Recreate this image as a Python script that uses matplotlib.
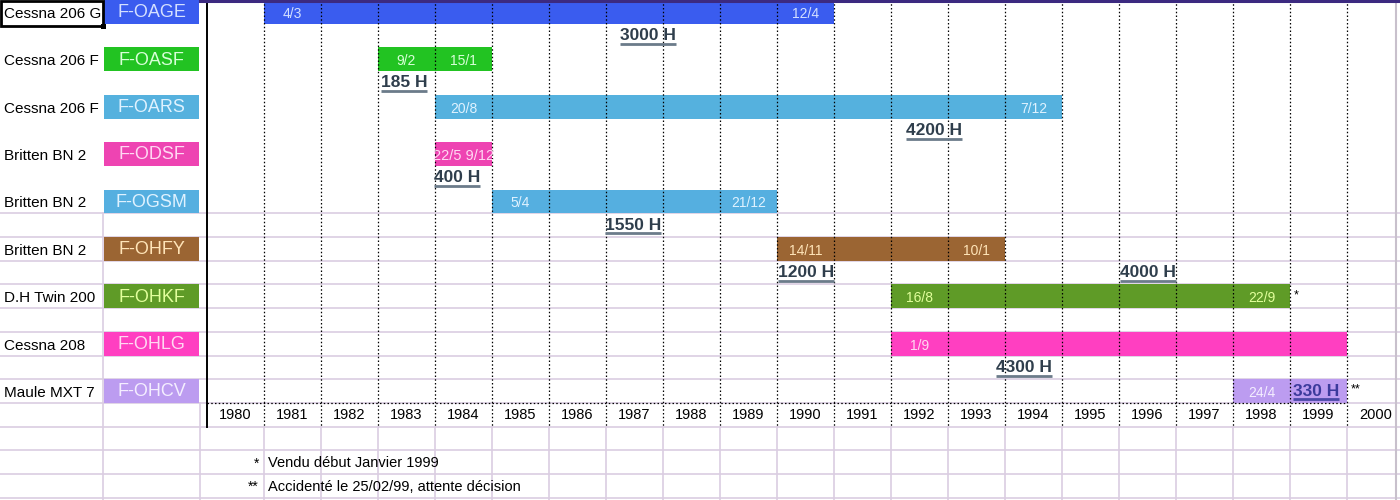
import matplotlib
matplotlib.use("Agg")
import matplotlib.pyplot as plt
from matplotlib.patches import Rectangle

plt.rcParams['font.family'] = ['Liberation Sans', 'DejaVu Sans']

# ---------------- data ----------------
names = ['Cessna 206 G', 'Cessna 206 F', 'Cessna 206 F', 'Britten BN 2', 'Britten BN 2',
         'Britten BN 2', 'D.H Twin 200', 'Cessna 208', 'Maule MXT 7']
regs = ['F-OAGE', 'F-OASF', 'F-OARS', 'F-ODSF', 'F-OGSM', 'F-OHFY', 'F-OHKF', 'F-OHLG', 'F-OHCV']
start_year = [1981, 1983, 1984, 1984, 1985, 1990, 1992, 1992, 1998]
end_year = [1990, 1984, 1994, 1984, 1989, 1993, 1998, 1999, 1999]
start_date = ['4/3', '9/2', '20/8', '22/5', '5/4', '14/11', '16/8', '1/9', '24/4']
end_date = ['12/4', '15/1', '7/12', '9/12', '21/12', '10/1', '22/9', '', '']
hours = ['3000 H', '185 H', '4200 H', '400 H', '1550 H', '1200 H', '4000 H', '4300 H', '330 H']
notes = ['', '', '', '', '', '', '*', '', '**']
years = list(range(1980, 2001))
footnote_marks = ['*', '**']
footnote_texts = ['Vendu début Janvier 1999', 'Accidenté le 25/02/99, attente décision']

# ---------------- styles / layout ----------------
bar_colors = ['#3a5cef', '#22c322', '#55b1de', '#ee44b2', '#55afe0', '#9b6533', '#5f9b27', '#ff3fc1', '#bc9cf0']
text_colors = ['#d4e0ff', '#d8ffd8', '#dff2ff', '#ffd8f2', '#dff2ff', '#ffe4b8', '#e2ff9c', '#ffd8f2', '#f4eeff']
hours_row = [1, 3, 5, 7, 9, 11, 11, 15, 16]
hours_x = [1987.25, 1983.05, 1992.26, 1983.98, 1986.98, 1990.02, 1996.02, 1993.84, 1999.05]
hours_color = ['#2f3e4c'] * 8 + ['#3b3a9c']

COLW = 57.0      # pixels per year column
ROWH = 23.7      # pixels per spreadsheet row
X0PX = 207.0     # pixel position of the 1980 column
DY = 0.58        # vertical text position inside a row


def px2x(px):
    return years[0] + (px - X0PX) / COLW


fig = plt.figure(figsize=(14, 5), dpi=100)
ax = fig.add_axes([0, 0, 1, 1])
ax.set_xlim(px2x(0), px2x(1400))
ax.set_ylim(500 / ROWH, 0)
ax.axis('off')

n_rows = 21
year_row = 2 * len(regs) - 1   # row 17
grid_col = '#dacde2'

# pink horizontal spreadsheet lines (lower part)
for r in range(9, n_rows + 1):
    ax.plot([px2x(0), px2x(1400)], [r, r], color=grid_col, lw=1.2, zorder=1)
# pink vertical lines
ax.plot([px2x(103)] * 2, [9, n_rows + 1], color=grid_col, lw=1.2, zorder=1)
ax.plot([px2x(200)] * 2, [year_row, n_rows + 1], color=grid_col, lw=1.2, zorder=1)
for yv in years[1:]:
    ax.plot([yv, yv], [year_row + 1, n_rows + 1], color=grid_col, lw=1.2, zorder=1)
ax.plot([px2x(1396)] * 2, [0, n_rows + 1], color='#c8c0cc', lw=1.5, zorder=1)

# dotted black year boundaries
for yv in years[1:]:
    ax.plot([yv, yv], [0, year_row + 1], color='black', lw=0.9,
            linestyle=(0, (1.2, 1.8)), zorder=4)
ax.plot([years[0], years[-1]], [year_row, year_row], color='black', lw=0.9,
        linestyle=(0, (1.2, 1.8)), zorder=4)
ax.plot([years[0]] * 2, [0, year_row + 1], color='black', lw=1.4, zorder=4)
ax.plot([px2x(200), px2x(1400)], [0.03, 0.03], color='#3c2a80', lw=2.2, zorder=5)

# year labels
for yv in years:
    ax.text(yv + 0.5, year_row + 0.52, str(yv), ha='center', va='center', fontsize=10.5,
            color='black', zorder=6)

hour_texts = []
for i in range(len(regs)):
    row = 2 * i
    # name
    ax.text(px2x(4), row + DY, names[i], ha='left', va='center', fontsize=11,
            color='black', zorder=6)
    # registration box
    ax.add_patch(Rectangle((px2x(104), row), (199 - 104) / COLW, 1.0,
                           facecolor=bar_colors[i], edgecolor='none', zorder=3))
    ax.text(px2x(151.5), row + 0.54, regs[i], ha='center', va='center', fontsize=13,
            color=text_colors[i], zorder=6)
    # bar
    bc = ax.barh(row + 0.5, end_year[i] - start_year[i] + 1, left=start_year[i],
                 height=1.0, color=bar_colors[i], edgecolor='none', zorder=3)
    patch = bc.patches[0]
    if start_year[i] == end_year[i]:
        t = ax.text(start_year[i] + 0.5, row + DY, start_date[i] + ' ' + end_date[i],
                    ha='center', va='center', fontsize=10.5, color=text_colors[i], zorder=6)
        t.set_clip_path(patch)
    else:
        ax.text(start_year[i] + 0.5, row + DY, start_date[i], ha='center', va='center',
                fontsize=10, color=text_colors[i], zorder=6)
        if end_date[i]:
            ax.text(end_year[i] + 0.5, row + DY, end_date[i], ha='center', va='center',
                    fontsize=10, color=text_colors[i], zorder=6)
    if notes[i]:
        ax.text(end_year[i] + 1 + 0.07, row + 0.45, notes[i], ha='left', va='center',
                fontsize=9, color='black', zorder=6)
    # hours label
    ht = ax.text(hours_x[i], hours_row[i] + 0.5, hours[i], ha='left', va='center',
                 fontsize=12.5, fontweight='bold', color=hours_color[i], zorder=7)
    hour_texts.append(ht)

# selection box round first cell
ax.add_patch(Rectangle((px2x(1), 0.05), (103 - 1) / COLW, 1.05, facecolor='none',
                       edgecolor='black', lw=2, zorder=8))
ax.add_patch(Rectangle((px2x(101), 1.0), 5 / COLW, 0.22, facecolor='black',
                       edgecolor='none', zorder=8))

# footnotes
for k in range(len(footnote_marks)):
    r = year_row + 2 + k
    ax.text(px2x(259), r + 0.55, footnote_marks[k], ha='right', va='center', fontsize=10,
            color='black', zorder=6)
    ax.text(px2x(268), r + 0.55, footnote_texts[k], ha='left', va='center', fontsize=10.5,
            color='black', zorder=6)

# underline hours labels
fig.canvas.draw()
renderer = fig.canvas.get_renderer()
inv = ax.transData.inverted()
for i, ht in enumerate(hour_texts):
    bb = ht.get_window_extent(renderer)
    (x0, y0), (x1, y1) = inv.transform([(bb.x0, bb.y0), (bb.x1, bb.y1)])
    ax.plot([x0, x1], [y0 + 0.03, y0 + 0.03],
            color=('#6b7b8a' if i < 8 else '#4a4aa8'), lw=2, zorder=7,
            solid_capstyle='butt')

fig.savefig('out.png', dpi=100)
